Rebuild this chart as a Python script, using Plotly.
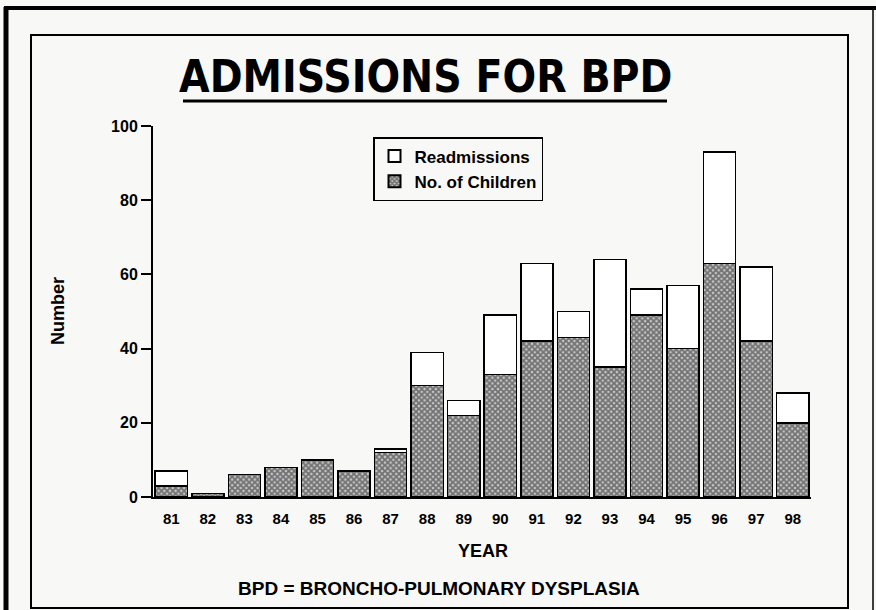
import plotly.graph_objects as go

years = ["81", "82", "83", "84", "85", "86", "87", "88", "89", "90",
         "91", "92", "93", "94", "95", "96", "97", "98"]
children = [3, 1, 6, 8, 10, 7, 12, 30, 22, 33, 42, 43, 35, 49, 40, 63, 42, 20]
totals = [7, 1, 6, 8, 10, 7, 13, 39, 26, 49, 63, 50, 64, 56, 57, 93, 62, 28]
readmissions = [t - c for t, c in zip(totals, children)]

FONT = "Liberation Sans, Arial, Helvetica, sans-serif"
NARROW = "Liberation Sans Narrow, Arial Narrow, DejaVu Sans Condensed, sans-serif"
BG = "#f8f8f6"

fig = go.Figure()
fig.add_trace(go.Bar(
    x=years, y=children, name="No. of Children",
    marker=dict(color="#7a7a7a",
                line=dict(color="black", width=1.5),
                pattern=dict(shape="x", size=4, solidity=0.7,
                             fgcolor="#1a1a1a", bgcolor="#c8c8c8")),
))
fig.add_trace(go.Bar(
    x=years, y=readmissions, name="Readmissions",
    marker=dict(color="white", line=dict(color="black", width=1.5)),
))

W, H = 876, 610
L, R, T, B = 153, 65, 126, 113
pw, ph = W - L - R, H - T - B


def px(x):
    return (x - L) / pw


def py(y):
    return (H - B - y) / ph


shapes = [
    # outer frame
    dict(type="line", xref="paper", yref="paper", x0=px(4), x1=px(876), y0=py(8), y1=py(8),
         line=dict(color="black", width=4)),
    dict(type="line", xref="paper", yref="paper", x0=px(6), x1=px(6), y0=py(7), y1=py(612),
         line=dict(color="black", width=5)),
    dict(type="line", xref="paper", yref="paper", x0=px(873), x1=px(873), y0=py(8), y1=py(612),
         line=dict(color="black", width=1.5)),
    # inner frame
    dict(type="rect", xref="paper", yref="paper", x0=px(31), x1=px(848), y0=py(608), y1=py(35),
         line=dict(color="black", width=2)),
    # title underline
    dict(type="line", xref="paper", yref="paper", x0=px(183), x1=px(667), y0=py(101), y1=py(101),
         line=dict(color="black", width=3)),
]

annotations = [
    dict(text="<b>ADMISSIONS FOR BPD</b>", xref="paper", yref="paper",
         x=px(425), y=py(76), xanchor="center", yanchor="middle", showarrow=False,
         font=dict(family=NARROW, size=44, color="black")),
    dict(text="<b>YEAR</b>", xref="paper", yref="paper",
         x=px(483), y=py(551), xanchor="center", yanchor="middle", showarrow=False,
         font=dict(family=FONT, size=18, color="black")),
    dict(text="<b>BPD = BRONCHO-PULMONARY DYSPLASIA</b>", xref="paper", yref="paper",
         x=px(439), y=py(588), xanchor="center", yanchor="middle", showarrow=False,
         font=dict(family=FONT, size=19, color="black")),
    dict(text="<b>Number</b>", xref="paper", yref="paper", textangle=-90,
         x=px(58), y=py(311), xanchor="center", yanchor="middle", showarrow=False,
         font=dict(family=FONT, size=18, color="black")),
]

fig.update_layout(
    width=W, height=H,
    margin=dict(l=L, r=R, t=T, b=B, pad=0),
    barmode="stack", bargap=0.12,
    paper_bgcolor=BG, plot_bgcolor=BG,
    font=dict(family=FONT, color="black"),
    shapes=shapes, annotations=annotations,
    legend=dict(x=px(373), y=py(137), xanchor="left", yanchor="top",
                traceorder="reversed", bgcolor=BG,
                bordercolor="black", borderwidth=1.5,
                font=dict(family=FONT, size=17, color="black", weight="bold"),
                itemsizing="constant", tracegroupgap=0),
    xaxis=dict(showline=True, linecolor="black", linewidth=2, ticks="",
               ticklabelstandoff=7,
               showgrid=False, zeroline=False,
               tickfont=dict(family=FONT, size=15, color="black", weight="bold")),
    yaxis=dict(range=[0, 100], dtick=20, showline=True, linecolor="black", linewidth=2,
               ticks="outside", ticklen=10, tickwidth=2, tickcolor="black",
               showgrid=False, zeroline=False,
               tickfont=dict(family=FONT, size=16, color="black", weight="bold")),
)

fig.write_html(
    "out.html",
    config={"displayModeBar": False},
    post_script="document.body.style.margin='0';document.body.style.padding='0';"
                "document.body.style.overflow='hidden';",
)
